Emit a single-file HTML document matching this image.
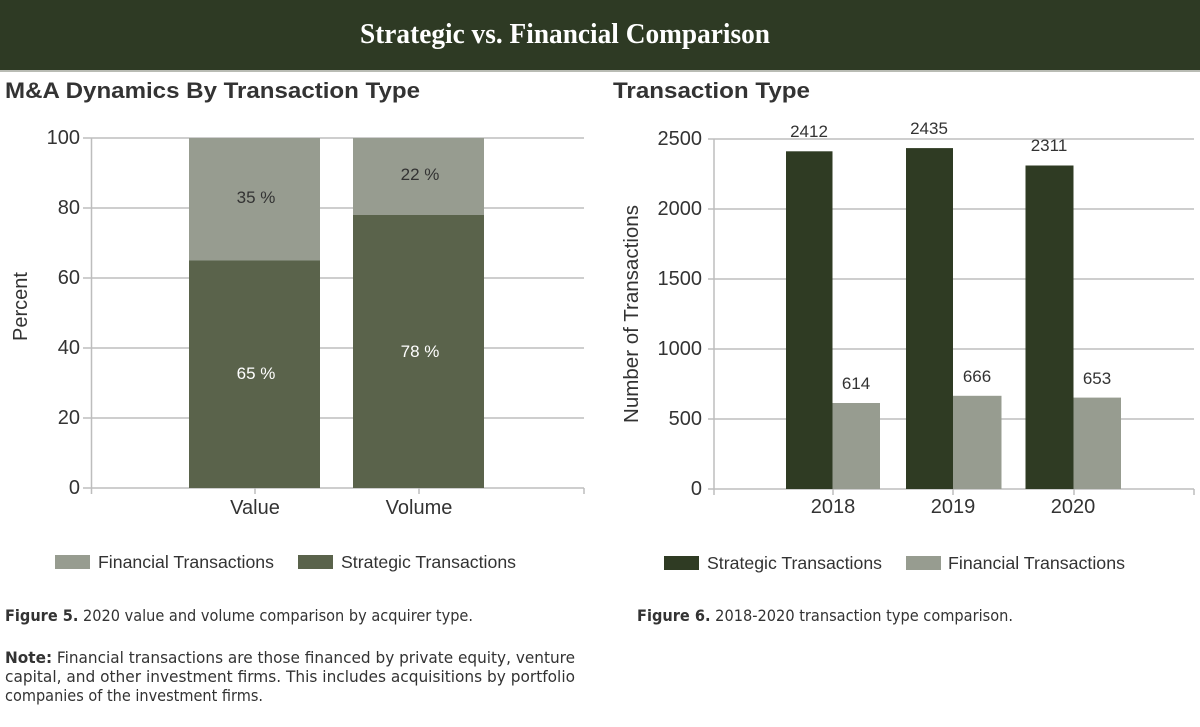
<!DOCTYPE html>
<html><head><meta charset="utf-8"><style>
html,body{margin:0;padding:0;background:#fff;}
svg{display:block;}
text{font-family:"Liberation Sans",Arial,sans-serif;fill:#333;}
.cap{font-family:"DejaVu Sans","Liberation Sans",sans-serif;font-size:16px;fill:#333;}
</style></head><body>
<svg width="1200" height="727" viewBox="0 0 1200 727" xmlns="http://www.w3.org/2000/svg">
<rect x="0" y="0" width="1200" height="70" fill="#2e3a24"/>
<rect x="0" y="70" width="1200" height="2" fill="#b9bcb4"/>
<text x="360" y="43" font-weight="bold" font-size="29" style="fill:#fff;font-family:'Liberation Serif',serif" textLength="410" lengthAdjust="spacingAndGlyphs">Strategic vs. Financial Comparison</text>

<text x="5" y="98" font-weight="bold" font-size="22" textLength="415" lengthAdjust="spacingAndGlyphs">M&amp;A Dynamics By Transaction Type</text>
<text x="613" y="98" font-weight="bold" font-size="22" textLength="197" lengthAdjust="spacingAndGlyphs">Transaction Type</text>

<!-- Left chart -->
<g stroke="#bdbdbd" stroke-width="1.5">
<line x1="83" y1="138" x2="584" y2="138"/>
<line x1="83" y1="208" x2="584" y2="208"/>
<line x1="83" y1="278" x2="584" y2="278"/>
<line x1="83" y1="348" x2="584" y2="348"/>
<line x1="83" y1="418" x2="584" y2="418"/>
<line x1="83" y1="488" x2="584" y2="488"/>
<line x1="91.5" y1="138" x2="91.5" y2="494"/>
<line x1="255" y1="488" x2="255" y2="494"/>
<line x1="419" y1="488" x2="419" y2="494"/>
<line x1="584" y1="488" x2="584" y2="494"/>
</g>
<rect x="189" y="138" width="131" height="122.5" fill="#979c90"/>
<rect x="189" y="260.5" width="131" height="227.5" fill="#5a634b"/>
<rect x="353" y="138" width="131" height="77" fill="#979c90"/>
<rect x="353" y="215" width="131" height="273" fill="#5a634b"/>
<g font-size="20" text-anchor="end">
<text x="80" y="144">100</text>
<text x="80" y="214">80</text>
<text x="80" y="284">60</text>
<text x="80" y="354">40</text>
<text x="80" y="424">20</text>
<text x="80" y="494">0</text>
</g>
<g font-size="17" text-anchor="middle">
<text x="256" y="203">35 %</text>
<text x="256" y="379" style="fill:#fff">65 %</text>
<text x="420" y="180">22 %</text>
<text x="420" y="357" style="fill:#fff">78 %</text>
</g>
<g font-size="20" text-anchor="middle">
<text x="255" y="514">Value</text>
<text x="419" y="514">Volume</text>
</g>
<text transform="translate(27,306.5) rotate(-90)" font-size="20" text-anchor="middle">Percent</text>
<rect x="55" y="555" width="35" height="14" fill="#979c90"/>
<text x="98" y="568" font-size="17.5" textLength="176" lengthAdjust="spacingAndGlyphs">Financial Transactions</text>
<rect x="298" y="555" width="35" height="14" fill="#5a634b"/>
<text x="341" y="568" font-size="17.5" textLength="175" lengthAdjust="spacingAndGlyphs">Strategic Transactions</text>

<!-- Right chart -->
<g stroke="#bdbdbd" stroke-width="1.5">
<line x1="708" y1="139" x2="1194" y2="139"/>
<line x1="708" y1="209" x2="1194" y2="209"/>
<line x1="708" y1="279" x2="1194" y2="279"/>
<line x1="708" y1="349" x2="1194" y2="349"/>
<line x1="708" y1="419" x2="1194" y2="419"/>
<line x1="708" y1="489" x2="1194" y2="489"/>
<line x1="714" y1="139" x2="714" y2="495"/>
<line x1="833" y1="489" x2="833" y2="495"/>
<line x1="953" y1="489" x2="953" y2="495"/>
<line x1="1074" y1="489" x2="1074" y2="495"/>
<line x1="1194" y1="489" x2="1194" y2="495"/>
</g>
<rect x="786" y="151.3" width="46.5" height="337.7" fill="#2f3b23"/>
<rect x="832.5" y="403" width="47.5" height="86" fill="#979c90"/>
<rect x="906" y="148.1" width="47" height="340.9" fill="#2f3b23"/>
<rect x="953" y="395.8" width="48.5" height="93.2" fill="#979c90"/>
<rect x="1025.5" y="165.5" width="48" height="323.5" fill="#2f3b23"/>
<rect x="1073.5" y="397.6" width="47.5" height="91.4" fill="#979c90"/>
<g font-size="20" text-anchor="end">
<text x="702" y="145">2500</text>
<text x="702" y="215">2000</text>
<text x="702" y="285">1500</text>
<text x="702" y="355">1000</text>
<text x="702" y="425">500</text>
<text x="702" y="495">0</text>
</g>
<g font-size="17" text-anchor="middle">
<text x="809" y="137">2412</text>
<text x="929" y="134">2435</text>
<text x="1049" y="151">2311</text>
<text x="856" y="389">614</text>
<text x="977" y="382">666</text>
<text x="1097" y="384">653</text>
</g>
<g font-size="20" text-anchor="middle">
<text x="833" y="513">2018</text>
<text x="953" y="513">2019</text>
<text x="1073" y="513">2020</text>
</g>
<text transform="translate(638,314) rotate(-90)" font-size="20" text-anchor="middle" textLength="218" lengthAdjust="spacingAndGlyphs">Number of Transactions</text>
<rect x="664" y="556" width="35" height="14" fill="#2f3b23"/>
<text x="707" y="569" font-size="17.5" textLength="175" lengthAdjust="spacingAndGlyphs">Strategic Transactions</text>
<rect x="906" y="556" width="35" height="14" fill="#979c90"/>
<text x="948" y="569" font-size="17.5" textLength="177" lengthAdjust="spacingAndGlyphs">Financial Transactions</text>

<!-- Captions -->
<text class="cap" x="5" y="621" textLength="468" lengthAdjust="spacingAndGlyphs"><tspan font-weight="bold">Figure 5.</tspan> 2020 value and volume comparison by acquirer type.</text>
<text class="cap" x="637" y="621" textLength="376" lengthAdjust="spacingAndGlyphs"><tspan font-weight="bold">Figure 6.</tspan> 2018-2020 transaction type comparison.</text>
<text class="cap" x="5" y="663" textLength="570" lengthAdjust="spacingAndGlyphs"><tspan font-weight="bold">Note:</tspan> Financial transactions are those financed by private equity, venture</text>
<text class="cap" x="5" y="682" textLength="570" lengthAdjust="spacingAndGlyphs">capital, and other investment firms. This includes acquisitions by portfolio</text>
<text class="cap" x="5" y="701" textLength="258" lengthAdjust="spacingAndGlyphs">companies of the investment firms.</text>
</svg>
</body></html>
